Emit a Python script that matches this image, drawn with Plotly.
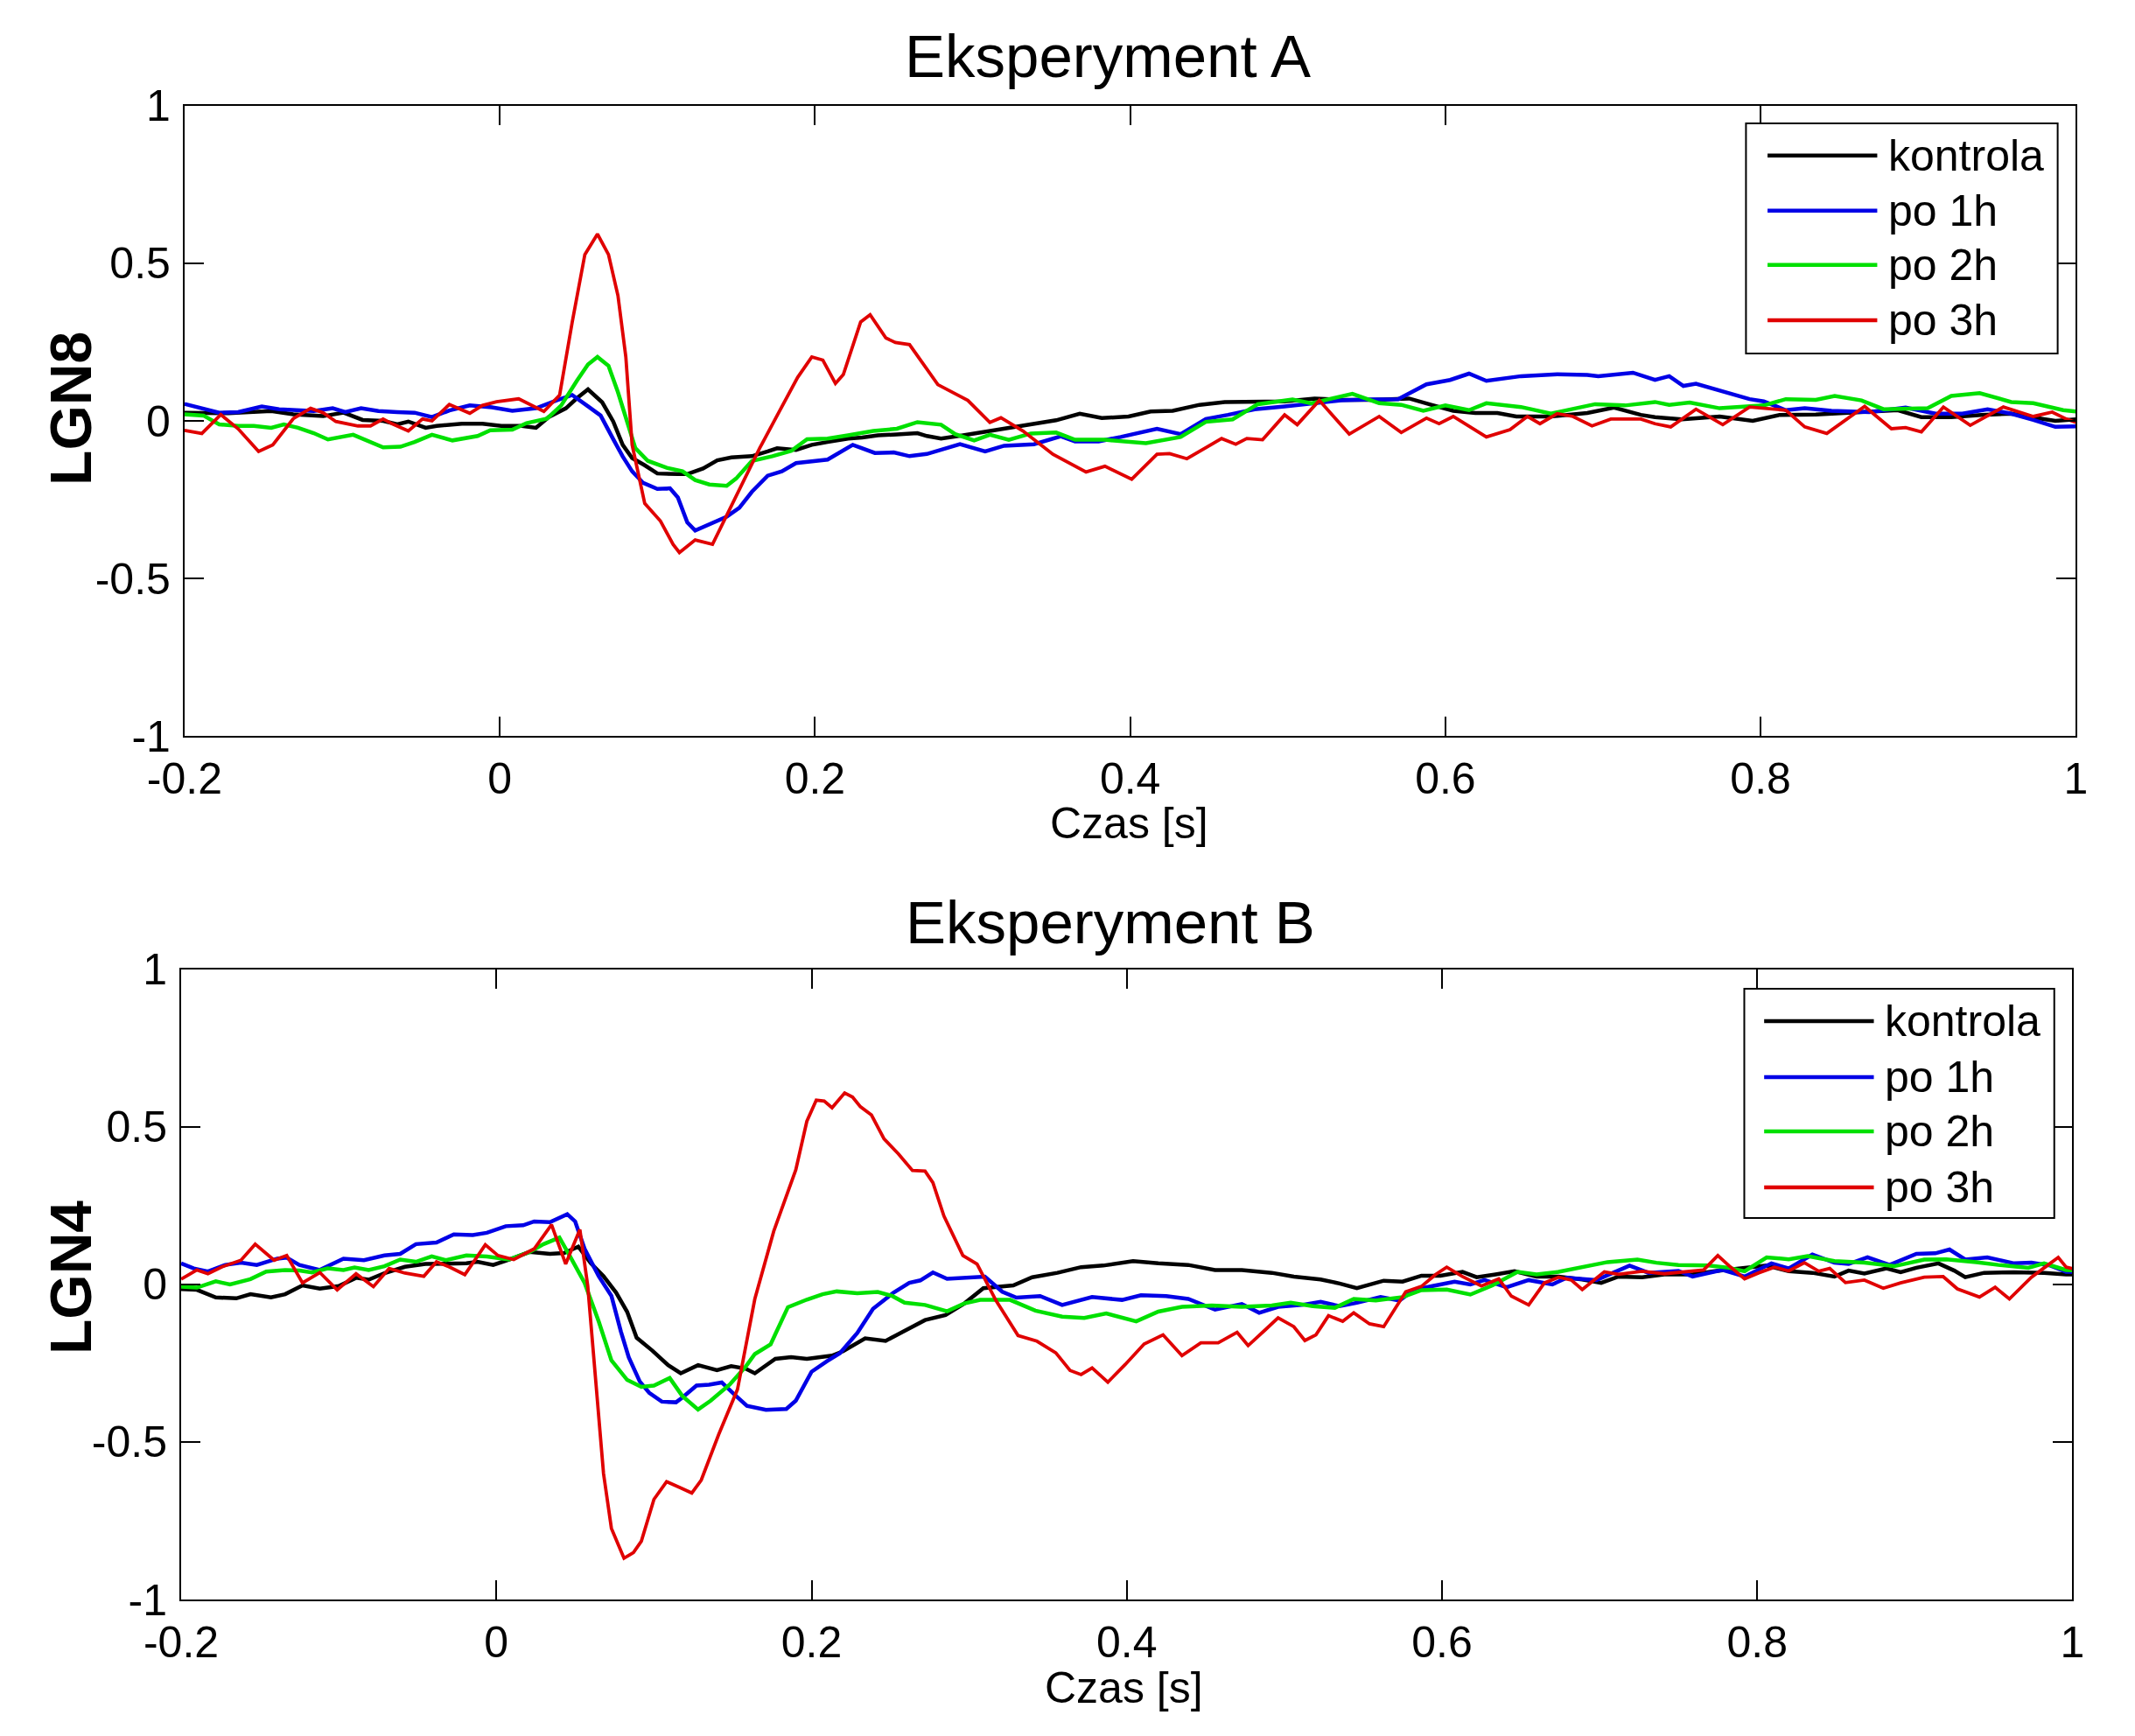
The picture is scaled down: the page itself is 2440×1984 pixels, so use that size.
import plotly.graph_objects as go

# ---------------- data ----------------
x_ticks = [-0.2, 0, 0.2, 0.4, 0.6, 0.8, 1]
x_tick_labels = ["-0.2", "0", "0.2", "0.4", "0.6", "0.8", "1"]
y_ticks = [-1, -0.5, 0, 0.5, 1]
y_tick_labels = ["-1", "-0.5", "0", "0.5", "1"]

series_names = ["kontrola", "po 1h", "po 2h", "po 3h"]
series_colors = ["#000000", "#0000E6", "#00E000", "#E00000"]
series_widths = [4.5, 4.5, 4.5, 3.8]

# Eksperyment A (LGN8)
A_t_kontrola = [-0.2, -0.187, -0.172, -0.159, -0.145, -0.131, -0.112, -0.099, -0.087, -0.074, -0.065, -0.058,
                -0.047, -0.04, -0.024, -0.011, 0.001, 0.014, 0.023, 0.031, 0.042, 0.049, 0.056, 0.065, 0.072,
                0.078, 0.084, 0.092, 0.1, 0.113, 0.119, 0.129, 0.138, 0.147, 0.16, 0.17, 0.176, 0.188, 0.198,
                0.208, 0.221, 0.23, 0.24, 0.252, 0.265, 0.271, 0.28, 0.294, 0.308, 0.323, 0.339, 0.353, 0.368,
                0.382, 0.399, 0.413, 0.427, 0.444, 0.46, 0.479, 0.498, 0.517, 0.534, 0.553, 0.577, 0.591, 0.605,
                0.619, 0.633, 0.645, 0.667, 0.69, 0.707, 0.724, 0.733, 0.75, 0.774, 0.795, 0.812, 0.835, 0.864,
                0.887, 0.902, 0.921, 0.94, 0.959, 0.978, 0.987, 1.0]
A_kontrola = [0.026, 0.024, 0.024, 0.028, 0.031, 0.021, 0.015, 0.026, 0.003, 0.0, -0.011, -0.002,
              -0.022, -0.016, -0.009, -0.009, -0.016, -0.016, -0.022, 0.012, 0.04, 0.072, 0.1, 0.059, -0.002,
              -0.076, -0.118, -0.141, -0.167, -0.169, -0.169, -0.151, -0.125, -0.116, -0.112, -0.097, -0.087,
              -0.092, -0.076, -0.067, -0.056, -0.053, -0.046, -0.043, -0.039, -0.048, -0.056, -0.046, -0.035,
              -0.021, -0.009, 0.002, 0.023, 0.009, 0.014, 0.03, 0.032, 0.051, 0.06, 0.06, 0.062, 0.071, 0.067,
              0.067, 0.071, 0.051, 0.032, 0.025, 0.025, 0.014, 0.014, 0.025, 0.042, 0.019, 0.012, 0.005, 0.014,
              0.0, 0.019, 0.02, 0.028, 0.034, 0.012, 0.012, 0.019, 0.023, 0.007, 0.0, 0.005]

A_t_po1h = [-0.2, -0.189, -0.178, -0.166, -0.151, -0.14, -0.128, -0.118, -0.106, -0.098, -0.088, -0.077, -0.065,
            -0.054, -0.043, -0.032, -0.019, -0.005, 0.008, 0.023, 0.036, 0.046, 0.056, 0.064, 0.072, 0.078,
            0.084, 0.091, 0.1, 0.108, 0.113, 0.119, 0.124, 0.133, 0.144, 0.152, 0.16, 0.17, 0.179, 0.188,
            0.198, 0.208, 0.224, 0.238, 0.25, 0.26, 0.271, 0.28, 0.292, 0.308, 0.32, 0.339, 0.356, 0.365, 0.38,
            0.394, 0.417, 0.432, 0.448, 0.462, 0.479, 0.498, 0.515, 0.534, 0.553, 0.57, 0.588, 0.603, 0.615,
            0.626, 0.648, 0.671, 0.69, 0.697, 0.719, 0.733, 0.742, 0.751, 0.759, 0.781, 0.793, 0.802, 0.816,
            0.828, 0.845, 0.869, 0.892, 0.911, 0.928, 0.944, 0.959, 0.973, 0.987, 1.0]
A_po1h = [0.054, 0.04, 0.026, 0.028, 0.046, 0.037, 0.035, 0.031, 0.04, 0.028, 0.04, 0.031, 0.028,
          0.026, 0.012, 0.033, 0.049, 0.043, 0.032, 0.04, 0.065, 0.082, 0.046, 0.017, -0.058, -0.113,
          -0.16, -0.197, -0.216, -0.214, -0.243, -0.322, -0.348, -0.327, -0.304, -0.276, -0.225, -0.174,
          -0.16, -0.134, -0.127, -0.123, -0.076, -0.102, -0.1, -0.112, -0.105, -0.093, -0.074, -0.097,
          -0.079, -0.074, -0.049, -0.065, -0.065, -0.051, -0.025, -0.042, 0.006, 0.019, 0.037, 0.046, 0.056,
          0.065, 0.068, 0.069, 0.116, 0.13, 0.15, 0.127, 0.142, 0.148, 0.146, 0.142, 0.153, 0.13, 0.142,
          0.111, 0.118, 0.088, 0.069, 0.062, 0.034, 0.04, 0.032, 0.028, 0.042, 0.023, 0.023, 0.037, 0.023,
          0.003, -0.019, -0.017]

A_t_po2h = [-0.2, -0.188, -0.178, -0.166, -0.156, -0.145, -0.137, -0.128, -0.118, -0.109, -0.093, -0.084,
            -0.074, -0.063, -0.054, -0.043, -0.03, -0.014, -0.006, 0.008, 0.017, 0.03, 0.039, 0.049, 0.056,
            0.062, 0.069, 0.075, 0.081, 0.086, 0.094, 0.106, 0.116, 0.124, 0.133, 0.144, 0.15, 0.16, 0.173,
            0.185, 0.195, 0.208, 0.221, 0.237, 0.252, 0.265, 0.28, 0.289, 0.301, 0.311, 0.323, 0.337, 0.353,
            0.365, 0.384, 0.41, 0.432, 0.448, 0.465, 0.481, 0.503, 0.515, 0.541, 0.558, 0.572, 0.586, 0.6,
            0.615, 0.626, 0.648, 0.667, 0.681, 0.695, 0.714, 0.733, 0.742, 0.755, 0.774, 0.788, 0.802, 0.816,
            0.835, 0.847, 0.864, 0.878, 0.892, 0.906, 0.921, 0.939, 0.959, 0.973, 0.992, 1.0]
A_po2h = [0.021, 0.017, -0.011, -0.016, -0.016, -0.022, -0.011, -0.022, -0.039, -0.059, -0.044, -0.062,
          -0.084, -0.082, -0.067, -0.044, -0.062, -0.048, -0.03, -0.028, -0.007, 0.007, 0.049, 0.128, 0.179,
          0.203, 0.175, 0.091, -0.002, -0.086, -0.127, -0.149, -0.16, -0.188, -0.202, -0.206, -0.183, -0.127,
          -0.112, -0.095, -0.058, -0.056, -0.046, -0.032, -0.025, -0.004, -0.012, -0.042, -0.062, -0.044,
          -0.06, -0.04, -0.037, -0.06, -0.06, -0.071, -0.051, -0.003, 0.005, 0.053, 0.068, 0.056, 0.086,
          0.056, 0.051, 0.032, 0.049, 0.034, 0.056, 0.044, 0.023, 0.037, 0.053, 0.049, 0.06, 0.051, 0.058,
          0.04, 0.044, 0.049, 0.069, 0.067, 0.079, 0.065, 0.037, 0.037, 0.04, 0.079, 0.088, 0.06, 0.056,
          0.034, 0.03]

A_t_po3h = [-0.2, -0.189, -0.177, -0.166, -0.153, -0.144, -0.131, -0.12, -0.112, -0.104, -0.09, -0.082, -0.074,
            -0.068, -0.058, -0.049, -0.043, -0.032, -0.019, -0.011, -0.002, 0.012, 0.028, 0.038, 0.046, 0.054,
            0.062, 0.069, 0.075, 0.08, 0.084, 0.092, 0.102, 0.11, 0.114, 0.124, 0.135, 0.144, 0.152, 0.165,
            0.176, 0.189, 0.198, 0.205, 0.213, 0.218, 0.229, 0.235, 0.245, 0.251, 0.26, 0.271, 0.278, 0.297,
            0.311, 0.318, 0.332, 0.351, 0.372, 0.384, 0.401, 0.417, 0.425, 0.436, 0.458, 0.467, 0.474, 0.484,
            0.498, 0.506, 0.52, 0.539, 0.558, 0.572, 0.588, 0.596, 0.605, 0.626, 0.641, 0.652, 0.66, 0.671,
            0.681, 0.693, 0.705, 0.724, 0.733, 0.743, 0.759, 0.776, 0.793, 0.816, 0.828, 0.842, 0.866, 0.883,
            0.892, 0.902, 0.916, 0.933, 0.954, 0.973, 0.985, 0.994, 1.0]
A_po3h = [-0.03, -0.04, 0.02, -0.025, -0.097, -0.076, 0.007, 0.04, 0.026, -0.002, -0.016, -0.016, 0.006,
          -0.01, -0.032, 0.006, 0.0, 0.052, 0.024, 0.049, 0.061, 0.07, 0.03, 0.082, 0.314, 0.528,
          0.593, 0.528, 0.398, 0.203, -0.076, -0.262, -0.318, -0.392, -0.418, -0.378, -0.392, -0.3, -0.216,
          -0.086, 0.017, 0.138, 0.203, 0.193, 0.119, 0.147, 0.314, 0.337, 0.263, 0.249, 0.242, 0.165, 0.115,
          0.065, -0.005, 0.01, -0.032, -0.106, -0.162, -0.144, -0.185, -0.106, -0.104, -0.12, -0.056, -0.074,
          -0.056, -0.06, 0.019, -0.012, 0.065, -0.042, 0.014, -0.037, 0.009, -0.009, 0.014, -0.051, -0.028,
          0.014, -0.009, 0.023, 0.014, -0.016, 0.006, 0.006, -0.009, -0.019, 0.037, -0.012, 0.044, 0.034,
          -0.019, -0.04, 0.046, -0.025, -0.021, -0.035, 0.044, -0.014, 0.044, 0.014, 0.028, 0.006, -0.005]

# Eksperyment B (LGN4)
B_t_kontrola = [-0.2, -0.19, -0.178, -0.165, -0.156, -0.143, -0.134, -0.123, -0.112, -0.1, -0.089, -0.081,
                -0.071, -0.058, -0.045, -0.032, -0.019, -0.012, -0.002, 0.008, 0.021, 0.034, 0.043, 0.052, 0.06,
                0.068, 0.076, 0.083, 0.089, 0.099, 0.109, 0.117, 0.128, 0.14, 0.149, 0.158, 0.164, 0.177, 0.187,
                0.197, 0.213, 0.22, 0.234, 0.247, 0.262, 0.272, 0.285, 0.297, 0.309, 0.328, 0.34, 0.356, 0.371,
                0.385, 0.404, 0.42, 0.439, 0.456, 0.473, 0.492, 0.506, 0.523, 0.535, 0.546, 0.563, 0.575, 0.587,
                0.599, 0.613, 0.622, 0.634, 0.646, 0.66, 0.674, 0.689, 0.701, 0.712, 0.727, 0.741, 0.759, 0.773,
                0.792, 0.806, 0.82, 0.835, 0.849, 0.858, 0.868, 0.882, 0.891, 0.901, 0.915, 0.925, 0.932, 0.944,
                0.963, 0.982, 0.996, 1.0]
B_kontrola = [-0.015, -0.017, -0.041, -0.044, -0.031, -0.041, -0.031, -0.003, -0.013, -0.005, 0.021, 0.015,
              0.036, 0.056, 0.065, 0.067, 0.067, 0.072, 0.062, 0.079, 0.103, 0.097, 0.1, 0.12, 0.067,
              0.026, -0.026, -0.087, -0.169, -0.21, -0.256, -0.282, -0.256, -0.272, -0.259, -0.267, -0.282,
              -0.236, -0.231, -0.236, -0.226, -0.212, -0.171, -0.179, -0.138, -0.113, -0.097, -0.06, -0.012,
              -0.003, 0.023, 0.037, 0.055, 0.06, 0.074, 0.067, 0.062, 0.046, 0.046, 0.037, 0.025, 0.016, 0.003,
              -0.012, 0.012, 0.009, 0.028, 0.028, 0.04, 0.023, 0.032, 0.042, 0.025, 0.025, 0.016, 0.005, 0.025,
              0.023, 0.032, 0.032, 0.042, 0.053, 0.06, 0.042, 0.037, 0.025, 0.044, 0.035, 0.051, 0.039, 0.053,
              0.067, 0.044, 0.023, 0.037, 0.039, 0.037, 0.032, 0.032]

B_t_po1h = [-0.2, -0.192, -0.183, -0.172, -0.162, -0.152, -0.139, -0.133, -0.125, -0.112, -0.097, -0.084,
            -0.071, -0.061, -0.051, -0.038, -0.027, -0.015, -0.006, 0.006, 0.017, 0.024, 0.034, 0.04, 0.045,
            0.05, 0.056, 0.065, 0.073, 0.079, 0.084, 0.091, 0.097, 0.105, 0.114, 0.118, 0.127, 0.135, 0.143,
            0.151, 0.159, 0.171, 0.184, 0.19, 0.2, 0.21, 0.218, 0.229, 0.239, 0.252, 0.262, 0.269, 0.277,
            0.286, 0.3, 0.31, 0.321, 0.33, 0.345, 0.359, 0.378, 0.397, 0.409, 0.425, 0.439, 0.456, 0.473,
            0.484, 0.496, 0.511, 0.523, 0.535, 0.546, 0.561, 0.573, 0.582, 0.594, 0.608, 0.618, 0.627, 0.641,
            0.655, 0.67, 0.679, 0.698, 0.719, 0.731, 0.75, 0.759, 0.778, 0.792, 0.809, 0.82, 0.835, 0.849,
            0.858, 0.87, 0.884, 0.901, 0.913, 0.922, 0.932, 0.946, 0.963, 0.974, 0.986, 0.996, 1.0]
B_po1h = [0.067, 0.051, 0.041, 0.062, 0.069, 0.062, 0.082, 0.085, 0.062, 0.046, 0.082, 0.077,
          0.092, 0.097, 0.128, 0.133, 0.159, 0.157, 0.164, 0.185, 0.188, 0.2, 0.198, 0.212, 0.223,
          0.2, 0.113, 0.026, -0.036, -0.149, -0.231, -0.308, -0.344, -0.372, -0.374, -0.359, -0.321, -0.318,
          -0.311, -0.349, -0.385, -0.398, -0.395, -0.369, -0.277, -0.243, -0.218, -0.154, -0.077, -0.026,
          0.005, 0.013, 0.038, 0.018, 0.021, 0.025, -0.023, -0.042, -0.037, -0.065, -0.04, -0.049, -0.034,
          -0.037, -0.046, -0.08, -0.062, -0.09, -0.071, -0.065, -0.055, -0.069, -0.058, -0.04, -0.051,
          -0.018, -0.005, 0.009, 0.0, 0.014, -0.009, 0.014, 0.0, 0.021, 0.014, 0.06, 0.037, 0.043, 0.025,
          0.046, 0.025, 0.067, 0.051, 0.095, 0.069, 0.065, 0.086, 0.062, 0.097, 0.099, 0.111, 0.079, 0.086,
          0.067, 0.069, 0.06, 0.04, 0.04]

B_t_po2h = [-0.2, -0.19, -0.178, -0.169, -0.156, -0.146, -0.134, -0.125, -0.117, -0.107, -0.097, -0.09,
            -0.081, -0.071, -0.061, -0.051, -0.041, -0.032, -0.019, -0.006, 0.008, 0.021, 0.03, 0.04, 0.047,
            0.056, 0.065, 0.073, 0.083, 0.092, 0.1, 0.11, 0.118, 0.128, 0.136, 0.148, 0.158, 0.164, 0.174,
            0.185, 0.197, 0.207, 0.216, 0.229, 0.242, 0.251, 0.259, 0.272, 0.286, 0.297, 0.307, 0.326, 0.342,
            0.359, 0.373, 0.387, 0.406, 0.42, 0.435, 0.454, 0.473, 0.492, 0.504, 0.518, 0.532, 0.544, 0.558,
            0.575, 0.587, 0.603, 0.618, 0.632, 0.648, 0.66, 0.674, 0.689, 0.705, 0.724, 0.736, 0.75, 0.769,
            0.782, 0.792, 0.806, 0.82, 0.832, 0.849, 0.868, 0.887, 0.906, 0.92, 0.939, 0.953, 0.972, 0.982,
            0.996, 1.0]
B_po2h = [-0.007, -0.01, 0.01, 0.0, 0.017, 0.041, 0.046, 0.044, 0.038, 0.051, 0.046, 0.054,
          0.046, 0.058, 0.079, 0.072, 0.089, 0.077, 0.092, 0.089, 0.079, 0.103, 0.128, 0.149, 0.087,
          0.005, -0.118, -0.241, -0.303, -0.325, -0.321, -0.297, -0.354, -0.397, -0.369, -0.318, -0.262,
          -0.221, -0.19, -0.072, -0.048, -0.031, -0.022, -0.028, -0.024, -0.036, -0.058, -0.065, -0.085,
          -0.06, -0.049, -0.049, -0.083, -0.102, -0.106, -0.092, -0.117, -0.086, -0.071, -0.067, -0.071,
          -0.067, -0.058, -0.069, -0.074, -0.046, -0.051, -0.04, -0.018, -0.016, -0.032, -0.003, 0.04,
          0.032, 0.04, 0.055, 0.071, 0.079, 0.069, 0.062, 0.06, 0.053, 0.042, 0.086, 0.08, 0.09, 0.074,
          0.069, 0.058, 0.079, 0.08, 0.071, 0.062, 0.053, 0.067, 0.046, 0.045]

B_t_po3h = [-0.2, -0.19, -0.183, -0.174, -0.162, -0.153, -0.141, -0.133, -0.123, -0.112, -0.101, -0.089,
            -0.078, -0.068, -0.058, -0.046, -0.038, -0.03, -0.02, -0.007, 0.001, 0.011, 0.024, 0.035, 0.044,
            0.053, 0.058, 0.063, 0.068, 0.073, 0.081, 0.087, 0.092, 0.1, 0.108, 0.117, 0.124, 0.13, 0.141,
            0.153, 0.164, 0.176, 0.185, 0.19, 0.197, 0.203, 0.208, 0.213, 0.221, 0.226, 0.231, 0.238, 0.246,
            0.255, 0.264, 0.272, 0.277, 0.284, 0.296, 0.305, 0.317, 0.331, 0.343, 0.355, 0.364, 0.371, 0.378,
            0.388, 0.399, 0.411, 0.423, 0.435, 0.447, 0.458, 0.47, 0.477, 0.487, 0.496, 0.506, 0.513, 0.52,
            0.528, 0.537, 0.544, 0.554, 0.563, 0.577, 0.587, 0.596, 0.603, 0.613, 0.625, 0.636, 0.644, 0.655,
            0.665, 0.674, 0.682, 0.689, 0.703, 0.712, 0.727, 0.741, 0.755, 0.766, 0.775, 0.782, 0.792, 0.801,
            0.811, 0.82, 0.83, 0.839, 0.846, 0.856, 0.868, 0.88, 0.891, 0.906, 0.918, 0.927, 0.941, 0.951,
            0.96, 0.974, 0.984, 0.991, 0.996, 1.0]
B_po3h = [0.017, 0.046, 0.034, 0.056, 0.077, 0.128, 0.077, 0.092, 0.005, 0.038, -0.017, 0.034,
          -0.007, 0.051, 0.036, 0.026, 0.072, 0.056, 0.031, 0.126, 0.092, 0.079, 0.113, 0.19, 0.065,
          0.174, -0.005, -0.292, -0.6, -0.774, -0.869, -0.851, -0.815, -0.682, -0.626, -0.646, -0.662,
          -0.621, -0.477, -0.333, -0.046, 0.169, 0.292, 0.364, 0.518, 0.585, 0.582, 0.561, 0.608, 0.595,
          0.564, 0.538, 0.462, 0.415, 0.362, 0.36, 0.323, 0.217, 0.092, 0.065, -0.051, -0.162, -0.18,
          -0.217, -0.273, -0.286, -0.265, -0.31, -0.254, -0.189, -0.16, -0.226, -0.185, -0.185, -0.152,
          -0.194, -0.148, -0.106, -0.134, -0.178, -0.16, -0.099, -0.117, -0.09, -0.125, -0.134, -0.023,
          -0.006, 0.032, 0.055, 0.025, -0.005, 0.018, -0.037, -0.065, 0.005, 0.023, 0.014, -0.016, 0.04,
          0.032, 0.042, 0.034, 0.04, 0.046, 0.092, 0.06, 0.018, 0.037, 0.055, 0.043, 0.069, 0.042, 0.051,
          0.006, 0.014, -0.012, 0.005, 0.023, 0.025, -0.014, -0.04, -0.009, -0.046, 0.023, 0.06, 0.086,
          0.055, 0.05]

panels = [
    dict(title="Eksperyment A", ylabel="LGN8",
         t=[A_t_kontrola, A_t_po1h, A_t_po2h, A_t_po3h],
         y=[A_kontrola, A_po1h, A_po2h, A_po3h]),
    dict(title="Eksperyment B", ylabel="LGN4",
         t=[B_t_kontrola, B_t_po1h, B_t_po2h, B_t_po3h],
         y=[B_kontrola, B_po1h, B_po2h, B_po3h]),
]

# ---------------- figure ----------------
# the page body adds an 8 px margin, so the figure is 16 px smaller than the window
W, H = 2424, 1968
FONT = "Liberation Sans, Arial, Helvetica, sans-serif"

fig = go.Figure()

# axes placement (paper fractions)
x_domains = [[0.0837, 0.9754], [0.0821, 0.9738]]
y_domains = [[0.5767, 0.9426], [0.0752, 0.4411]]
title_pos = [(0.519, 0.9715), (0.5202, 0.468)]
xlabel_pos = [(0.5289, 0.5259), (0.5268, 0.0239)]
ylabel_pos = [(0.0301, 0.7668), (0.0301, 0.2622)]
legend_box = [(0.8256, 0.9904, 0.6069, 0.9722), (0.8265, 0.9904, 0.6056, 0.9694)]
legend_rows = [[0.9213, 0.8338, 0.7476, 0.6597], [0.918, 0.829, 0.743, 0.654]]

shapes = []
annotations = []

for i, p in enumerate(panels):
    xa = "x" if i == 0 else "x2"
    ya = "y" if i == 0 else "y2"
    for name, color, lw, t, y in zip(series_names, series_colors, series_widths, p["t"], p["y"]):
        fig.add_trace(go.Scatter(x=t, y=y, mode="lines", name=name, xaxis=xa, yaxis=ya,
                                 line=dict(color=color, width=lw), showlegend=False))

    axis_common = dict(showline=True, linewidth=2, linecolor="black", mirror="ticks",
                       ticks="inside", ticklen=22, tickwidth=2, tickcolor="black",
                       showgrid=False, zeroline=False, automargin=False,
                       tickfont=dict(family=FONT, size=50, color="black"))
    xkey = "xaxis" if i == 0 else "xaxis2"
    ykey = "yaxis" if i == 0 else "yaxis2"
    fig.update_layout(**{
        xkey: dict(axis_common, domain=x_domains[i], range=[-0.2, 1], anchor=ya,
                   tickmode="array", tickvals=x_ticks, ticktext=x_tick_labels,
                   ticklabelstandoff=4),
        ykey: dict(axis_common, domain=y_domains[i], range=[-1, 1], anchor=xa,
                   tickmode="array", tickvals=y_ticks, ticktext=y_tick_labels,
                   ticklabelstandoff=4),
    })

    annotations.append(dict(text=p["title"], x=title_pos[i][0], y=title_pos[i][1],
                            xref="paper", yref="paper", showarrow=False,
                            xanchor="center", yanchor="middle",
                            font=dict(family=FONT, size=69, color="black")))
    annotations.append(dict(text="Czas [s]", x=xlabel_pos[i][0], y=xlabel_pos[i][1],
                            xref="paper", yref="paper", showarrow=False,
                            xanchor="center", yanchor="middle",
                            font=dict(family=FONT, size=50, color="black")))
    annotations.append(dict(text="<b>" + p["ylabel"] + "</b>", x=ylabel_pos[i][0], y=ylabel_pos[i][1],
                            xref="paper", yref="paper", showarrow=False, textangle=-90,
                            xanchor="center", yanchor="middle",
                            font=dict(family=FONT, size=66, color="black")))

    # legend box drawn in axis-domain coordinates
    xr = xa + " domain"
    yr = ya + " domain"
    bx0, bx1, by0, by1 = legend_box[i]
    shapes.append(dict(type="rect", xref=xr, yref=yr, x0=bx0, x1=bx1, y0=by0, y1=by1,
                       line=dict(color="black", width=2), fillcolor="white", layer="above"))
    for name, color, ry in zip(series_names, series_colors, legend_rows[i]):
        shapes.append(dict(type="line", xref=xr, yref=yr, x0=0.837, x1=0.895, y0=ry, y1=ry,
                           line=dict(color=color, width=4.5), layer="above"))
        annotations.append(dict(text=name, x=0.900, y=ry, xref=xr, yref=yr, showarrow=False,
                                xanchor="left", yanchor="middle",
                                font=dict(family=FONT, size=50, color="black")))

fig.update_layout(width=W, height=H, margin=dict(l=0, r=0, t=0, b=0),
                  plot_bgcolor="white", paper_bgcolor="white",
                  shapes=shapes, annotations=annotations, showlegend=False)

fig.write_html("out.html")
